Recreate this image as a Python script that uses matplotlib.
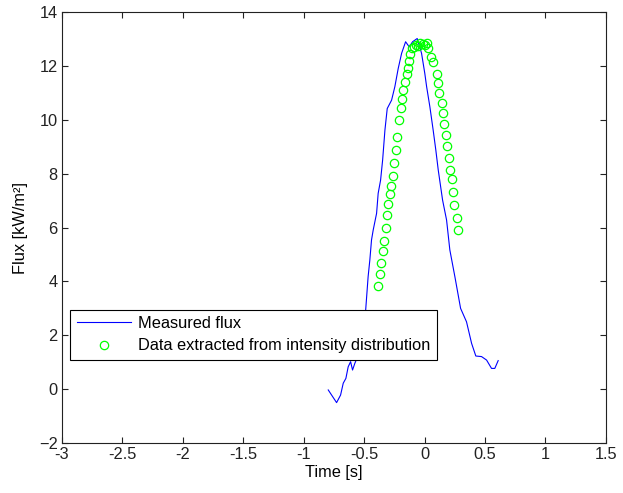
import matplotlib
matplotlib.use("Agg")
import matplotlib.pyplot as plt

# Measured flux (blue line)
meas_t = [-0.797, -0.728, -0.695, -0.673, -0.651, -0.632, -0.612, -0.596, -0.577,
          -0.558, -0.520, -0.488, -0.467, -0.453, -0.439, -0.425, -0.397, -0.384,
          -0.364, -0.347, -0.328, -0.309, -0.273, -0.246, -0.218, -0.190, -0.157,
          -0.127, -0.099, -0.061, -0.045, -0.025, 0.002, 0.017, 0.044, 0.071,
          0.093, 0.113, 0.149, 0.182, 0.209, 0.251, 0.298, 0.347, 0.389, 0.424,
          0.471, 0.513, 0.554, 0.581, 0.609]
meas_flux = [-0.03, -0.50, -0.22, 0.22, 0.40, 0.83, 1.02, 0.71, 0.96,
             1.16, 2.10, 2.90, 4.18, 4.79, 5.54, 5.91, 6.53, 7.27,
             7.76, 8.51, 9.62, 10.42, 10.73, 11.23, 11.91, 12.47, 12.90,
             12.71, 12.90, 13.02, 12.78, 12.47, 11.72, 11.23, 10.48, 9.62,
             8.88, 8.14, 7.02, 6.28, 5.17, 4.17, 3.00, 2.50, 1.70, 1.23,
             1.21, 1.08, 0.77, 0.77, 1.06]

# Data extracted from intensity distribution (green circles)
ext_t = [-0.384, -0.370, -0.364, -0.347, -0.337, -0.320, -0.314, -0.306, -0.287,
         -0.279, -0.260, -0.250, -0.240, -0.227, -0.214, -0.198, -0.190, -0.177,
         -0.160, -0.149, -0.136, -0.127, -0.117, -0.107, -0.089, -0.072, -0.053,
         -0.039, -0.017, 0.002, 0.017, 0.030, 0.050, 0.071, 0.099, 0.108, 0.121,
         0.141, 0.149, 0.162, 0.176, 0.182, 0.201, 0.209, 0.223, 0.237, 0.245,
         0.265, 0.273]
ext_flux = [3.83, 4.26, 4.67, 5.13, 5.51, 5.97, 6.46, 6.87, 7.24,
            7.55, 7.91, 8.41, 8.87, 9.37, 9.99, 10.43, 10.76, 11.10,
            11.41, 11.69, 11.93, 12.18, 12.44, 12.65, 12.71, 12.78, 12.74,
            12.84, 12.81, 12.78, 12.86, 12.65, 12.34, 12.16, 11.70, 11.38, 11.00,
            10.63, 10.26, 9.84, 9.43, 9.03, 8.57, 8.14, 7.79, 7.31, 6.84,
            6.34, 5.91]

x_ticks = [-3, -2.5, -2, -1.5, -1, -0.5, 0, 0.5, 1, 1.5]
y_ticks = [-2, 0, 2, 4, 6, 8, 10, 12, 14]

plt.rcParams["font.family"] = ["Liberation Sans", "DejaVu Sans"]
plt.rcParams["font.size"] = 11.8

fig = plt.figure(figsize=(6.23, 4.93), dpi=100)
ax = fig.add_axes([0.0995, 0.1014, 0.873, 0.874])

ax.plot(meas_t, meas_flux, color="#0000ff", linewidth=0.8, label="Measured flux")
ax.plot(ext_t, ext_flux, linestyle="none", marker="o", markersize=6,
        markerfacecolor="none", markeredgecolor="#00ff00", markeredgewidth=0.9,
        label="Data extracted from intensity distribution")

ax.set_xlim(-3, 1.5)
ax.set_ylim(-2, 14)
ax.set_xticks(x_ticks)
ax.set_xticklabels([f"{v:g}" for v in x_ticks])
ax.set_yticks(y_ticks)
ax.tick_params(direction="in", top=True, right=True, length=4, width=0.8, pad=3,
               colors="#222222")
for s in ax.spines.values():
    s.set_linewidth(0.8)
    s.set_color("#222222")

ax.set_xlabel("Time [s]", labelpad=2)
ax.set_ylabel("Flux [kW/m²]", labelpad=8)

leg = ax.legend(loc="lower left", bbox_to_anchor=(0.0147, 0.1926),
                borderaxespad=0, fancybox=False, framealpha=1,
                edgecolor="black", handlelength=3.3, handletextpad=0.45,
                borderpad=0.4, labelspacing=0.45)
leg.get_frame().set_linewidth(0.8)

fig.savefig("out.png", dpi=100, facecolor="white")
